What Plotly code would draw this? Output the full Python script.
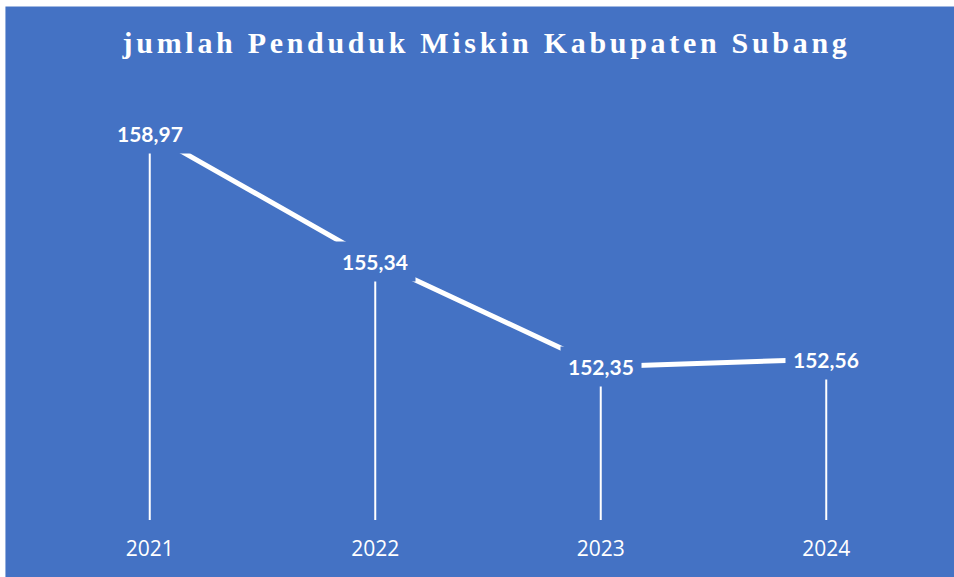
import plotly.graph_objects as go

years = ["2021", "2022", "2023", "2024"]
values = [158.97, 155.34, 152.35, 152.56]
value_labels = ["158,97", "155,34", "152,35", "152,56"]
title_text = "jumlah Penduduk Miskin Kabupaten Subang"

BLUE = "#4472C4"
Y_MIN, Y_MAX = 148, 160

fig = go.Figure()

# drop lines from axis up to each point
drop_x, drop_y = [], []
for yr, v in zip(years, values):
    drop_x += [yr, yr, None]
    drop_y += [Y_MIN, v, None]
fig.add_trace(go.Scatter(x=drop_x, y=drop_y, mode="lines",
                         line=dict(color="white", width=2),
                         hoverinfo="skip", showlegend=False))

# main line
fig.add_trace(go.Scatter(x=years, y=values, mode="lines",
                         line=dict(color="white", width=5),
                         showlegend=False))

annotations = []
for i, (v, lab) in enumerate(zip(values, value_labels)):
    annotations.append(dict(x=i, y=v, xref="x", yref="y", text="<b>" + lab + "</b>",
                            showarrow=False, xanchor="center", yanchor="middle",
                            bgcolor=BLUE, borderpad=7,
                            font=dict(family="Lato, Open Sans, sans-serif", size=21, color="white")))

fig.update_layout(
    width=954, height=577,
    paper_bgcolor=BLUE, plot_bgcolor=BLUE,
    margin=dict(l=37, r=15, t=97, b=57),
    annotations=annotations,
    shapes=[dict(type="rect", xref="paper", yref="paper", x0=-0.05, x1=1.05,
                 y0=1.214, y1=1.25, fillcolor="white", line_width=0, layer="above"),
            dict(type="rect", xref="paper", yref="paper", x0=-0.05, x1=-0.035,
                 y0=-0.2, y1=1.25, fillcolor="white", line_width=0, layer="above")],
    title=dict(text="<b>" + title_text + "</b>",
               x=0.51, xanchor="center", y=0.927, yanchor="middle",
               font=dict(family="Liberation Serif, Times New Roman, serif", size=30, color="white")),
    xaxis=dict(type="category", range=[-0.5, 3.5], showgrid=False, zeroline=False,
               showline=False, ticks="", ticklabelstandoff=14,
               tickfont=dict(family="Open Sans, sans-serif", size=21, color="white")),
    yaxis=dict(range=[Y_MIN, Y_MAX], visible=False),
    showlegend=False,
)

post = """
document.body.style.margin = '0';
var t = document.querySelectorAll('.gtitle');
t.forEach(function(el){ el.style.letterSpacing = '3.7px'; });
"""
fig.write_html("out.html", post_script=post, config={"displayModeBar": False})
